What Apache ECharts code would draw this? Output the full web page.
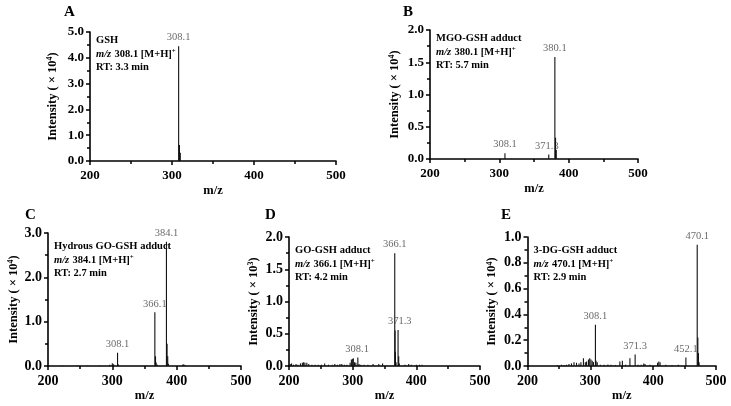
<!DOCTYPE html>
<html><head><meta charset="utf-8">
<script src="https://cdn.jsdelivr.net/npm/echarts@6/dist/echarts.min.js"></script>
<style>html,body{margin:0;padding:0;background:#fff}#c{width:731px;height:406px}</style>
</head><body><div id="c"></div>
<script>
// ---- data (m/z, intensity) ----
const peaksA = [[308.1,4.45],[309.1,0.62],[310.1,0.32]];
const labelsA = [[308.1,4.45,'308.1']];
const peaksB = [[308.1,0.09],[371.3,0.07],[380.1,1.58],[381.1,0.33],[382.1,0.14]];
const labelsB = [[308.1,0.09,'308.1'],[368.5,0.07,'371.3'],[380.1,1.58,'380.1']];
const peaksC = [[222,0.01],[245,0.01],[262,0.01],[280,0.01],[296,0.03],[300,0.06],[302,0.04],[308.1,0.30],[309.1,0.04],
  [366.1,1.21],[367.1,0.22],[368.1,0.08],[370,0.03],[384.1,2.80],[385.1,0.50],[386.1,0.22],[387.1,0.05],[409,0.03],[411,0.04],[413,0.02]];
const labelsC = [[308.1,0.30,'308.1'],[366.1,1.21,'366.1'],[384.1,2.80,'384.1']];
const peaksD = [[202,0.03],[204,0.04],[207,0.02],[211,0.03],[214,0.02],[218,0.04],[221,0.05],[223,0.06],[225,0.05],[228,0.05],[231,0.03],
  [236,0.02],[241,0.02],[246,0.02],[251,0.02],[256,0.04],[262,0.02],[268,0.02],[272,0.03],[276,0.02],[280,0.03],[283,0.03],[287,0.02],[291,0.02],
  [296,0.05],[298,0.10],[300,0.11],[301,0.12],[303,0.06],[305,0.05],[308.1,0.13],[310,0.03],[313,0.02],[318,0.02],[324,0.02],[332,0.03],[341,0.03],[347,0.04],
  [366.1,1.75],[366.6,0.55],[367.1,0.22],[368.1,0.06],[371.3,0.56],[372.3,0.15],[373.3,0.04],[382,0.02],[388,0.03],[392,0.02],[400,0.02],[405,0.02],[409,0.02]];
const labelsD = [[307,0.13,'308.1'],[374,0.56,'371.3'],[366.1,1.75,'366.1']];
const peaksE = [[248,0.005],[254,0.01],[258,0.008],[262,0.01],[266,0.015],[270,0.02],[274,0.03],[278,0.025],[282,0.02],[285,0.03],[289,0.06],[292,0.03],
  [294,0.035],[297,0.05],[299,0.06],[301,0.05],[303,0.04],[305,0.03],[308.1,0.32],[309.1,0.04],[311,0.03],[316,0.01],[322,0.01],[328,0.012],[333,0.01],
  [340,0.008],[347,0.035],[351,0.04],[356,0.01],[363,0.06],[371.3,0.09],[376,0.01],[381,0.01],[385,0.02],[387,0.015],[395,0.01],[407,0.025],[409,0.035],[411,0.03],
  [420,0.01],[430,0.008],[440,0.01],[452.1,0.065],[470.1,0.94],[471.1,0.22],[472.1,0.10],[473.1,0.03]];
const labelsE = [[308.1,0.32,'308.1'],[371.3,0.09,'371.3'],[452.1,0.065,'452.1'],[470.1,0.94,'470.1']];

const panels = [
  {letter:'A', peaks:peaksA, labels:labelsA, ymax:5, yint:1, exp:'4', info:['GSH','308.1','RT: 3.3 min']},
  {letter:'B', peaks:peaksB, labels:labelsB, ymax:2, yint:0.5, exp:'4', info:['MGO-GSH adduct','380.1','RT: 5.7 min']},
  {letter:'C', peaks:peaksC, labels:labelsC, ymax:3, yint:1, exp:'4', info:['Hydrous GO-GSH adduct','384.1','RT: 2.7 min']},
  {letter:'D', peaks:peaksD, labels:labelsD, ymax:2, yint:0.5, exp:'3', info:['GO-GSH adduct','366.1','RT: 4.2 min']},
  {letter:'E', peaks:peaksE, labels:labelsE, ymax:1, yint:0.2, exp:'4', info:['3-DG-GSH adduct','470.1','RT: 2.9 min']}
];
// layout (pixels)
const boxes = [
  {l:90, r:336, t:32, b:161, nameGap:31, fs:13, lx:64, ly:12},
  {l:430, r:638, t:30, b:159, nameGap:29, fs:13, lx:403, ly:12},
  {l:48, r:241, t:233, b:366, nameGap:28, fs:14, lx:25, ly:215},
  {l:289, r:480, t:237, b:366, nameGap:29, fs:14, lx:265, ly:215},
  {l:527.5, r:716, t:237, b:366, nameGap:29, fs:14, lx:501, ly:215}
];
const FONT = '"Liberation Serif","Times New Roman",serif';

const grid=[], xAxis=[], yAxis=[], series=[], graphic=[];
panels.forEach((p,i)=>{
  const bx = boxes[i];
  grid.push({left:bx.l, width:bx.r-bx.l, top:bx.t, height:bx.b-bx.t, containLabel:false});
  const axLine = {show:true, lineStyle:{color:'#000', width:1.6}};
  xAxis.push({gridIndex:i, type:'value', min:200, max:500, interval:100,
    axisLine:axLine, axisTick:{show:true, length:4, lineStyle:{color:'#000',width:1.5}},
    minorTick:{show:true, splitNumber:2, length:3, lineStyle:{color:'#000',width:1.5}},
    splitLine:{show:false},
    axisLabel:{color:'#000', fontFamily:FONT, fontWeight:'bold', fontSize:bx.fs, margin:8},
    name:'m/z', nameLocation:'middle', nameGap:23,
    nameTextStyle:{color:'#000', fontFamily:FONT, fontWeight:'bold', fontSize:12.5, verticalAlign:'top'}});
  yAxis.push({gridIndex:i, type:'value', min:0, max:p.ymax, interval:p.yint,
    axisLine:axLine, axisTick:{show:true, length:4, lineStyle:{color:'#000',width:1.5}},
    minorTick:{show:true, splitNumber:2, length:3, lineStyle:{color:'#000',width:1.5}},
    splitLine:{show:false},
    axisLabel:{color:'#000', fontFamily:FONT, fontWeight:'bold', fontSize:bx.fs, margin:6, formatter:v=>v.toFixed(1)},
    name:'{a|Intensity ( × 10}{s|'+p.exp+'}{a|)}', nameLocation:'middle', nameGap:bx.nameGap, nameRotate:90,
    nameTextStyle:{color:'#000', rich:{
      a:{fontFamily:FONT, fontWeight:'bold', fontSize:12.5, color:'#000'},
      s:{fontFamily:FONT, fontWeight:'bold', fontSize:8, color:'#000', verticalAlign:'top'}}}});
  series.push({type:'custom', xAxisIndex:i, yAxisIndex:i, data:p.peaks, silent:true,
    renderItem:(params, api)=>{
      const x=api.value(0), y=api.value(1);
      const p0=api.coord([x,0]), p1=api.coord([x,y]);
      return {type:'line', shape:{x1:p0[0],y1:p0[1],x2:p0[0],y2:p1[1]}, style:{stroke:'#111', lineWidth:1.1}};
    }});
  series.push({type:'scatter', xAxisIndex:i, yAxisIndex:i, symbolSize:0, silent:true,
    data:p.labels.map(d=>({value:[d[0],d[1]], name:d[2]})),
    label:{show:true, position:'top', distance:3, formatter:'{b}', color:'#444', fontFamily:FONT, fontSize:10.5}});
  // panel letter
  graphic.push({type:'text', x:bx.lx, y:bx.ly, style:{text:p.letter, font:'bold 15px '+FONT, fill:'#000', textAlign:'left', textVerticalAlign:'middle'}});
  const tx = bx.l+6, ty = bx.t+ (i<2?8:13);
  const F = 'bold 10.5px '+FONT;
  graphic.push({type:'text', x:tx, y:ty, style:{text:p.info[0], font:F, fill:'#000', textVerticalAlign:'middle'}});
  graphic.push({type:'text', x:tx, y:ty+14, style:{text:'{i|m/z} {b|'+p.info[1]+' [M+H]}{s|+}', textVerticalAlign:'middle',
    rich:{i:{font:'italic bold 10.5px '+FONT, fill:'#000'}, b:{font:F, fill:'#000'}, s:{font:'bold 7px '+FONT, fill:'#000', verticalAlign:'top'}}}});
  graphic.push({type:'text', x:tx, y:ty+27, style:{text:p.info[2], font:F, fill:'#000', textVerticalAlign:'middle'}});
});

const chart = echarts.init(document.getElementById('c'), null, {renderer:'canvas'});
chart.setOption({animation:false, backgroundColor:'#fff', grid, xAxis, yAxis, series, graphic});
</script></body></html>
